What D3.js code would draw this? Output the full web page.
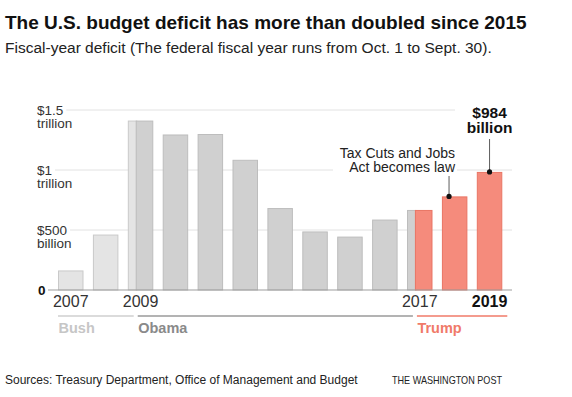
<!DOCTYPE html>
<html>
<head>
<meta charset="utf-8">
<script src="https://cdn.jsdelivr.net/npm/d3@7"></script>
<style>
  body { margin: 0; background: #fff; }
  svg { display: block; font-family: "Liberation Sans", Arial, sans-serif; }
</style>
</head>
<body>
<svg id="chart" width="572" height="397"></svg>
<script>
// fiscal-year deficit, billions of dollars
const years = [2007, 2008, 2009, 2010, 2011, 2012, 2013, 2014, 2015, 2016, 2017, 2018, 2019];
const deficit = [163, 462, 1412, 1296, 1300, 1085, 683, 488, 445, 587, 667, 780, 984];

// presidents, first and last fiscal year touched
const eraNames = ['Bush', 'Obama', 'Trump'];
const eraStart = [2007, 2009, 2017];
const eraEnd = [2009, 2017, 2019];

const yTicks = [0, 500, 1000, 1500];
const yTickLines = [['0'], ['$500', 'billion'], ['$1', 'trillion'], ['$1.5', 'trillion']];
const yearTicks = [2007, 2009, 2017, 2019];

const title = 'The U.S. budget deficit has more than doubled since 2015';
const subtitle = 'Fiscal-year deficit (The federal fiscal year runs from Oct. 1 to Sept. 30).';
const source = 'Sources: Treasury Department, Office of Management and Budget';
const credit = 'THE WASHINGTON POST';

const eraFill = { Bush: '#e4e4e4', Obama: '#d0d0d0', Trump: '#f58b7c' };
const eraStroke = { Bush: '#c9c9c9', Obama: '#bdbdbd', Trump: '#e97564' };
const eraLine = { Bush: '#cfcfcf', Obama: '#9a9a9a', Trump: '#f07a69' };
const eraText = { Bush: '#c6c6c6', Obama: '#8a8a8a', Trump: '#f07a69' };

// share of the transition fiscal year before inauguration day (Oct 1 -> Jan 20)
const splitFrac = 0.33;

const svg = d3.select('#chart');

const x = d3.scaleBand().domain(years).range([53.3, 507]).paddingInner(0.27).paddingOuter(0.135);
const y = d3.scaleLinear().domain([0, 1500]).range([290, 110]);
const bw = x.bandwidth();

// two-line text helper, one <text> with tspans
function stacked(g, x0, y0, lines, gap) {
  const t = g.append('text').attr('x', x0).attr('y', y0);
  lines.forEach((s, k) => {
    t.append('tspan').attr('x', x0).attr('dy', k === 0 ? 0 : gap).text(s);
  });
  return t;
}

// title block
svg.append('text').attr('x', 5).attr('y', 29)
  .style('font-size', '19px').style('font-weight', 'bold').style('fill', '#111')
  .text(title);
svg.append('text').attr('x', 5).attr('y', 53)
  .style('font-size', '15.5px').style('fill', '#222')
  .text(subtitle);

// y gridlines with stacked labels
const grid = svg.append('g');
yTicks.forEach((v, i) => {
  const gy = y(v);
  const lines = yTickLines[i];
  const lab = stacked(grid, v === 0 ? 38 : 37, gy + 4.5, lines, 13)
    .style('font-size', '13.5px').style('fill', v === 0 ? '#111' : '#333')
    .style('font-weight', v === 0 ? 'bold' : 'normal');
  const w = lab.select('tspan').node().getComputedTextLength();
  if (v !== 0) {
    grid.append('line')
      .attr('x1', 37 + w + 3).attr('x2', 512)
      .attr('y1', gy).attr('y2', gy)
      .style('stroke', '#e2e2e2').style('stroke-width', 1);
  }
});

function eraOf(yr) {
  // era that owns the bulk of the fiscal year
  let e = 0;
  eraStart.forEach((s, i) => { if (yr >= s) e = i; });
  return eraNames[e];
}
function isTransition(yr) {
  return eraStart.indexOf(yr) > 0;
}
function splitX(yr) {
  return x(yr) + bw * splitFrac;
}

// bars
const bars = svg.append('g');
years.forEach((yr, i) => {
  const era = eraOf(yr);
  const top = y(deficit[i]);
  const h = y(0) - top;
  if (isTransition(yr)) {
    const prev = eraNames[eraNames.indexOf(era) - 1];
    bars.append('rect')
      .attr('x', x(yr) + 0.5).attr('y', top + 0.5)
      .attr('width', bw * splitFrac).attr('height', h - 0.5)
      .style('fill', eraFill[prev]).style('stroke', eraStroke[prev]);
    bars.append('rect')
      .attr('x', splitX(yr)).attr('y', top + 0.5)
      .attr('width', bw * (1 - splitFrac) - 0.5).attr('height', h - 0.5)
      .style('fill', eraFill[era]).style('stroke', eraStroke[era]);
  } else {
    bars.append('rect')
      .attr('x', x(yr) + 0.5).attr('y', top + 0.5)
      .attr('width', bw - 1).attr('height', h - 0.5)
      .style('fill', eraFill[era]).style('stroke', eraStroke[era]);
  }
});

// baseline
svg.append('line').attr('x1', 48).attr('x2', 512)
  .attr('y1', y(0)).attr('y2', y(0))
  .style('stroke', '#9d9d9d').style('stroke-width', 1.2);

// year labels
const xAxis = d3.axisBottom(x).tickValues(yearTicks).tickSize(0).tickPadding(0);
const xg = svg.append('g').attr('transform', `translate(0, ${y(0)})`).call(xAxis);
xg.select('.domain').remove();
xg.selectAll('text')
  .attr('dy', null).attr('y', 17)
  .style('font-family', '"Liberation Sans", Arial, sans-serif')
  .style('font-size', '16px')
  .style('fill', d => d === 2019 ? '#111' : '#333')
  .style('font-weight', d => d === 2019 ? 'bold' : 'normal');

// president bands
const eraG = svg.append('g');
eraNames.forEach((name, i) => {
  const x1 = i === 0 ? x(eraStart[i]) : splitX(eraStart[i]) + 1.5;
  const x2 = i === eraNames.length - 1 ? x(eraEnd[i]) + bw + 5 : splitX(eraEnd[i]) - 2.5;
  eraG.append('line').attr('x1', x1).attr('x2', x2).attr('y1', 316).attr('y2', 316)
    .style('stroke', eraLine[name]).style('stroke-width', 1.5);
  eraG.append('text').attr('x', x1 + 0.5).attr('y', 333)
    .style('font-size', '14.5px').style('font-weight', 'bold').style('fill', eraText[name])
    .text(name);
});

// annotations
const ann = svg.append('g');
const i18 = years.indexOf(2018), i19 = years.indexOf(2019);
const taxX = x(2018) + bw * 0.28;
ann.append('rect').attr('x', 333).attr('y', 145).attr('width', 124).attr('height', 30).style('fill', '#fff');
stacked(ann, 455, 158, ['Tax Cuts and Jobs', 'Act becomes law'], 14)
  .attr('text-anchor', 'end').style('font-size', '14px').style('fill', '#222');
ann.append('line').attr('x1', taxX).attr('x2', taxX).attr('y1', 176).attr('y2', y(deficit[i18]))
  .style('stroke', '#333').style('stroke-width', 0.8);
ann.append('circle').attr('cx', taxX).attr('cy', y(deficit[i18])).attr('r', 2.6).style('fill', '#111');

const topX = x(2019) + bw / 2;
ann.append('rect').attr('x', 455).attr('y', 100).attr('width', 70).attr('height', 38).style('fill', '#fff');
stacked(ann, topX, 118, ['$' + deficit[i19], 'billion'], 15)
  .attr('text-anchor', 'middle').style('font-size', '15.5px').style('font-weight', 'bold')
  .style('fill', '#111');
ann.append('line').attr('x1', topX).attr('x2', topX).attr('y1', 139).attr('y2', y(deficit[i19]))
  .style('stroke', '#333').style('stroke-width', 0.8);
ann.append('circle').attr('cx', topX).attr('cy', y(deficit[i19])).attr('r', 2.6).style('fill', '#111');

// footer
svg.append('text').attr('x', 5).attr('y', 384)
  .style('font-size', '12px').style('fill', '#222').text(source);
svg.append('text').attr('x', 392).attr('y', 384)
  .attr('textLength', 110).attr('lengthAdjust', 'spacingAndGlyphs')
  .style('font-size', '11.5px').style('fill', '#222').text(credit);
</script>
</body>
</html>
